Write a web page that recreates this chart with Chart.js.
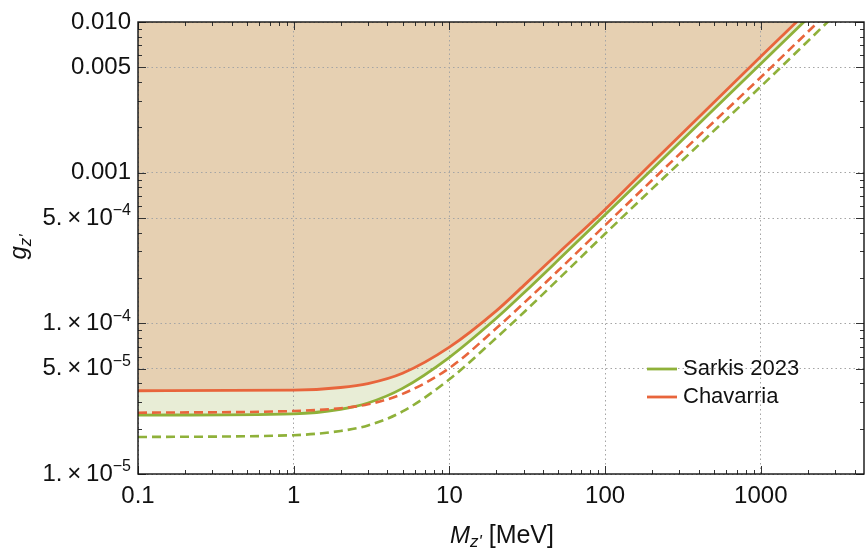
<!DOCTYPE html>
<html>
<head>
<meta charset="utf-8">
<script src="https://cdn.jsdelivr.net/npm/chart.js@4.4.1/dist/chart.umd.min.js"></script>
<style>
  html, body { margin: 0; padding: 0; background: #fff; }
</style>
</head>
<body>
<canvas id="myChart" width="865" height="548"></canvas>
<script>
// masa del Z' [MeV] y cotas de acoplamiento
const masses = [0.1, 1, 2, 3, 5, 10, 20, 30, 50, 100, 200, 1000, 5000]
const chavarria = [3.57e-5, 3.6e-5, 3.75e-5, 3.98e-5, 4.66e-5, 6.95e-5, 1.21e-4, 1.78e-4, 2.92e-4, 5.7e-4, 1.16e-3, 5.9e-3, 2.95e-2]
const sarkis = [2.46e-5, 2.51e-5, 2.69e-5, 2.96e-5, 3.7e-5, 5.95e-5, 1.08e-4, 1.59e-4, 2.63e-4, 5.25e-4, 1.05e-3, 5.29e-3, 2.65e-2]
const chavarriaDashed = [2.55e-5, 2.62e-5, 2.73e-5, 2.9e-5, 3.4e-5, 5.05e-5, 9.27e-5, 1.36e-4, 2.24e-4, 4.48e-4, 8.9e-4, 4.3e-3, 2.15e-2]
const sarkisDashed = [1.76e-5, 1.81e-5, 1.93e-5, 2.1e-5, 2.6e-5, 4.25e-5, 8.0e-5, 1.18e-4, 1.96e-4, 3.93e-4, 7.8e-4, 3.73e-3, 1.87e-2]

const xMajor = [0.1, 1, 10, 100, 1000]
const xLabels = ['0.1', '1', '10', '100', '1000']
const yMajor = [1e-5, 5e-5, 1e-4, 5e-4, 0.001, 0.005, 0.01]
const yLabels = ['1.\u2009\u00d7\u200910^\u22125', '5.\u2009\u00d7\u200910^\u22125', '1.\u2009\u00d7\u200910^\u22124', '5.\u2009\u00d7\u200910^\u22124', '0.001', '0.005', '0.010']
const legendNames = ['Sarkis 2023', 'Chavarria']

const X_MIN = 0.1, X_MAX = 4600, Y_MIN = 1e-5, Y_MAX = 0.01
const ORANGE = '#e8653c'
const GREEN = '#8fb13a'
const FONT = '"Liberation Sans", Arial, sans-serif'

// marcas menores 1..9 por decada
function logTicks(min, max) {
  const out = []
  for (let e = Math.floor(Math.log10(min)); e <= Math.ceil(Math.log10(max)); e++) {
    for (let m = 1; m <= 9; m++) {
      const v = parseFloat((m * Math.pow(10, e)).toPrecision(3))
      if (v >= min * 0.999 && v <= max * 1.001) out.push({ value: v, m: m })
    }
  }
  return out
}
const xTicks = logTicks(X_MIN, X_MAX)
const yTicks = logTicks(Y_MIN, Y_MAX)
const mant = v => Math.round(v / Math.pow(10, Math.floor(Math.log10(v) + 1e-9)))

const frame = {
  id: 'frame',
  afterDraw(chart) {
    const { ctx, chartArea: a, scales: { x, y } } = chart
    ctx.save()
    ctx.strokeStyle = '#333'
    ctx.lineWidth = 1
    ctx.beginPath()
    xTicks.forEach(t => {
      const px = Math.round(x.getPixelForValue(t.value)) + 0.5
      const len = t.m === 1 ? 8 : 4
      ctx.moveTo(px, a.bottom); ctx.lineTo(px, a.bottom - len)
      ctx.moveTo(px, a.top); ctx.lineTo(px, a.top + len)
    })
    yTicks.forEach(t => {
      const py = Math.round(y.getPixelForValue(t.value)) + 0.5
      const len = (t.m === 1 || t.m === 5) ? 8 : 4
      ctx.moveTo(a.left, py); ctx.lineTo(a.left + len, py)
      ctx.moveTo(a.right, py); ctx.lineTo(a.right - len, py)
    })
    ctx.stroke()
    ctx.strokeStyle = '#111'
    ctx.lineWidth = 1.4
    ctx.strokeRect(a.left, a.top, a.width, a.height)

    // etiquetas del eje y con exponente
    ctx.fillStyle = '#111'
    ctx.textBaseline = 'middle'
    ctx.textAlign = 'left'
    yMajor.forEach((v, i) => {
      const py = y.getPixelForValue(v)
      const parts = yLabels[i].split('^')
      ctx.font = '24px ' + FONT
      const wb = ctx.measureText(parts[0]).width
      let we = 0
      if (parts[1]) { ctx.font = '16px ' + FONT; we = ctx.measureText(parts[1]).width }
      const right = a.left - 7
      ctx.font = '24px ' + FONT
      ctx.fillText(parts[0], right - we - wb, py)
      if (parts[1]) { ctx.font = '16px ' + FONT; ctx.fillText(parts[1], right - we, py - 7) }
    })

    // titulo eje x
    ctx.textBaseline = 'alphabetic'
    ctx.font = 'italic 24px ' + FONT
    const wM = ctx.measureText('M').width
    ctx.font = 'italic 17px ' + FONT
    const wZ = ctx.measureText("z'").width
    let tx = 450
    const ty = 543
    ctx.font = 'italic 24px ' + FONT; ctx.fillText('M', tx, ty); tx += wM
    ctx.font = 'italic 17px ' + FONT; ctx.fillText("z'", tx, ty + 4); tx += wZ
    ctx.font = '25px ' + FONT; ctx.fillText(' [MeV]', tx, ty)

    // titulo eje y
    ctx.save()
    ctx.translate(26, 247)
    ctx.rotate(-Math.PI / 2)
    ctx.font = 'italic 24px ' + FONT
    const wg = ctx.measureText('g').width
    ctx.font = 'italic 17px ' + FONT
    const wz = ctx.measureText("z'").width
    let gx = -(wg + wz) / 2
    ctx.font = 'italic 24px ' + FONT; ctx.fillText('g', gx, 0); gx += wg
    ctx.font = 'italic 17px ' + FONT; ctx.fillText("z'", gx, 5)
    ctx.restore()

    // leyenda
    const items = [[legendNames[0], GREEN, 369], [legendNames[1], ORANGE, 397]]
    ctx.textBaseline = 'middle'
    ctx.font = '22px ' + FONT
    items.forEach(it => {
      ctx.strokeStyle = it[1]
      ctx.lineWidth = 2.8
      ctx.beginPath(); ctx.moveTo(647, it[2]); ctx.lineTo(677, it[2]); ctx.stroke()
      ctx.fillStyle = '#111'
      ctx.fillText(it[0], 683, it[2])
    })
    ctx.restore()
  }
}

const pts = arr => masses.map((m, i) => ({ x: m, y: arr[i] }))

const ctx = document.getElementById('myChart')
new Chart(ctx, {
  type: 'line',
  data: {
    datasets: [
      { label: 'Sarkis 2023 (dashed)', data: pts(sarkisDashed), borderColor: GREEN, borderWidth: 2.6, borderDash: [9, 5], pointRadius: 0, fill: false },
      { label: 'Chavarria (dashed)', data: pts(chavarriaDashed), borderColor: ORANGE, borderWidth: 2.6, borderDash: [9, 5], pointRadius: 0, fill: false },
      { label: 'Chavarria', data: pts(chavarria), borderColor: ORANGE, borderWidth: 2.8, pointRadius: 0, fill: 'end', backgroundColor: '#e6d0b2' },
      { label: 'Sarkis 2023', data: pts(sarkis), borderColor: GREEN, borderWidth: 2.8, pointRadius: 0, fill: '-1', backgroundColor: '#e8edd6' }
    ]
  },
  options: {
    responsive: false,
    animation: false,
    devicePixelRatio: 1,
    layout: { padding: { top: 22, right: 1, left: 0, bottom: 0 } },
    elements: { line: { cubicInterpolationMode: 'monotone' } },
    plugins: {
      legend: { display: false },
      tooltip: { enabled: false },
      filler: { drawTime: 'beforeDraw' }
    },
    scales: {
      x: {
        type: 'logarithmic',
        min: X_MIN,
        max: X_MAX,
        afterBuildTicks: s => { s.ticks = xTicks.map(t => ({ value: t.value })) },
        afterFit: s => { s.height = 74 },
        border: { display: false, dash: [1.5, 3] },
        grid: {
          drawTicks: false,
          lineWidth: 1,
          color: c => (c.tick && mant(c.tick.value) === 1) ? '#a5a5a5' : 'rgba(0,0,0,0)'
        },
        ticks: {
          autoSkip: false,
          maxRotation: 0,
          padding: 8,
          color: '#111',
          font: { size: 24, family: FONT },
          callback: v => {
            const i = xMajor.findIndex(m => Math.abs(m - v) / m < 1e-6)
            return i >= 0 ? xLabels[i] : ''
          }
        }
      },
      y: {
        type: 'logarithmic',
        min: Y_MIN,
        max: Y_MAX,
        afterBuildTicks: s => { s.ticks = yTicks.map(t => ({ value: t.value })) },
        afterFit: s => { s.width = 138 },
        border: { display: false, dash: [1.5, 3] },
        grid: {
          drawTicks: false,
          lineWidth: 1,
          color: c => {
            if (!c.tick) return 'rgba(0,0,0,0)'
            const m = mant(c.tick.value)
            return (m === 1 || m === 5) ? '#a5a5a5' : 'rgba(0,0,0,0)'
          }
        },
        ticks: { display: false }
      }
    }
  },
  plugins: [frame]
})
</script>
</body>
</html>
